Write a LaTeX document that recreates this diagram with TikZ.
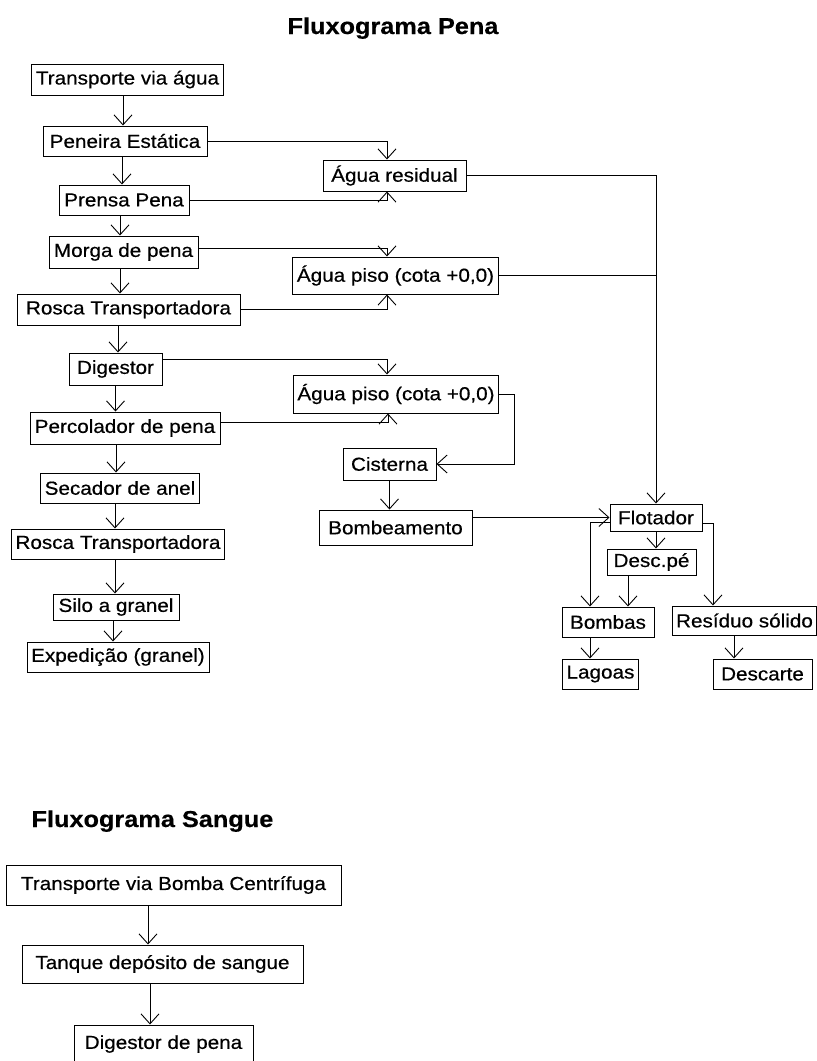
\documentclass[tikz,border=0pt]{standalone}
\usepackage{fontspec}
\setmainfont{Liberation Sans}
\newfontfamily\flowfont[FakeStretch=1.1,FakeBold=0.5]{Liberation Sans}
\usetikzlibrary{arrows.meta}

\tikzset{
  box/.style={draw, line width=1pt, inner xsep=4pt, inner ysep=0pt,
    minimum height=31pt, font=\flowfont\fontsize{18.8}{21}\selectfont},
  flow/.style={line width=0.9pt, -{Straight Barb[length=10pt,width=18pt]}},
  link/.style={line width=0.9pt},
  heading/.style={font=\flowfont\fontsize{23}{27}\selectfont\bfseries}
}

\begin{document}
\begin{tikzpicture}[x=1pt,y=-1pt]
\path[fill=white] (0,0) rectangle (817,1061);
\useasboundingbox (0,0) rectangle (817,1061);

\node[heading,anchor=base] (tpena) at (393,34) {Fluxograma Pena};

% coluna principal
\node[box,minimum width=191pt] (transp) at (127.5,79.5) {Transporte via água};
\node[box,minimum width=164pt,minimum height=30pt] (peneira) at (125,141) {Peneira Estática};
\node[box,minimum width=130pt,minimum height=30pt] (prensa) at (124,200) {Prensa Pena};
\node[box,minimum width=149pt,minimum height=32pt] (morga) at (123.5,252) {Morga de pena};
\node[box,minimum width=223pt] (rosca1) at (128.5,309.5) {Rosca Transportadora};
\node[box,minimum width=93pt,minimum height=32pt] (digestor) at (115.5,369) {Digestor};
\node[box,minimum width=190pt,minimum height=32pt] (percol) at (125,428) {Percolador de pena};
\node[box,minimum width=158pt,minimum height=30pt] (secador) at (120,488) {Secador de anel};
\node[box,minimum width=212pt,minimum height=30pt] (rosca2) at (118,544) {Rosca Transportadora};
\node[box,minimum width=126pt,minimum height=26pt] (silo) at (116,607) {Silo a granel};
\node[box,minimum width=182pt,minimum height=30pt] (exped) at (118,657) {Expedição (granel)};

% aguas
\node[box,minimum width=143pt] (aguares) at (394.5,175.5) {Água residual};
\node[box,minimum width=205pt,minimum height=37pt] (piso1) at (395.5,275.5) {Água piso (cota +0,0)};
\node[box,minimum width=204pt,minimum height=38pt] (piso2) at (396,394) {Água piso (cota +0,0)};
\node[box,minimum width=93pt,minimum height=32pt] (cist) at (389.5,464) {Cisterna};
\node[box,minimum width=153pt,minimum height=35pt] (bomb) at (395.5,527.5) {Bombeamento};

% flotador
\node[box,minimum width=92pt,minimum height=27pt] (flot) at (656,517.5) {Flotador};
\node[box,minimum width=89pt,minimum height=26pt] (desc) at (651.5,562) {Desc.pé};
\node[box,minimum width=92pt,minimum height=30pt] (bombas) at (608,622) {Bombas};
\node[box,minimum width=73pt,minimum height=30pt] (lagoas) at (600.5,674) {Lagoas};
\node[box,minimum width=143pt,minimum height=29pt] (resid) at (744.5,620.5) {Resíduo sólido};
\node[box,minimum width=99pt,minimum height=30pt] (descarte) at (762.5,674) {Descarte};

% sangue
\node[heading,anchor=base west] (tsangue) at (28,827) {Fluxograma Sangue};
\node[box,minimum width=335pt,minimum height=40pt] (tbomba) at (173.5,885) {Transporte via Bomba Centrífuga};
\node[box,minimum width=281pt,minimum height=38pt] (tanque) at (162.5,964) {Tanque depósito de sangue};
\node[box,minimum width=179pt,minimum height=38pt] (digpena) at (163.5,1044) {Digestor de pena};

% setas da coluna principal
\draw[flow] ([xshift=-4.5pt]transp.south) -- ([xshift=-4.5pt]transp.south |- peneira.north);
\draw[flow] ([xshift=-3pt]peneira.south) -- ([xshift=-3pt]peneira.south |- prensa.north);
\draw[flow] ([xshift=-4pt]prensa.south) -- ([xshift=-4pt]prensa.south |- morga.north);
\draw[flow] ([xshift=-3.5pt]morga.south) -- ([xshift=-3.5pt]morga.south |- rosca1.north);
\draw[flow] ([xshift=-10.5pt]rosca1.south) -- ([xshift=-10.5pt]rosca1.south |- digestor.north);
\draw[flow] (digestor.south) -- (digestor.south |- percol.north);
\draw[flow] ([xshift=-9pt]percol.south) -- ([xshift=-9pt]percol.south |- secador.north);
\draw[flow] ([xshift=-5pt]secador.south) -- ([xshift=-5pt]secador.south |- rosca2.north);
\draw[flow] ([xshift=-3pt]rosca2.south) -- ([xshift=-3pt]rosca2.south |- silo.north);
\draw[flow] ([xshift=-3pt]silo.south) -- ([xshift=-3pt]silo.south |- exped.north);

% setas para as aguas
\draw[flow] (peneira.east) -| ([xshift=-7.5pt]aguares.north);
\draw[flow] (prensa.east) -| ([xshift=-7.5pt]aguares.south);
\draw[flow] ([yshift=4pt]morga.east) -| ([xshift=-8.5pt]piso1.north);
\draw[flow] (rosca1.east) -| ([xshift=-8.5pt]piso1.south);
\draw[flow] ([yshift=10pt]digestor.east) -| ([xshift=-9pt]piso2.north);
\draw[flow] ([yshift=6pt]percol.east) -| ([xshift=-8pt]piso2.south);
\draw[flow] (piso2.east) -- ++(15,0) |- (cist.east);
\draw[flow] (cist.south) -- (cist.south |- bomb.north);

% flotador
\draw[flow] (aguares.east) -| (flot.north);
\draw[link] (piso1.east) -- (piso1.east -| flot.north);
\draw[flow] (bomb.east |- flot.west) -- (flot.west);
\draw[flow] (flot.south) -- (flot.south |- desc.north);
\draw[flow] ([xshift=-23.5pt]desc.south) -- ([xshift=-23.5pt]desc.south |- bombas.north);
\draw[flow] ([yshift=-5pt]flot.west) -| ([xshift=-18pt]bombas.north);
\draw[flow] ([yshift=-6pt]flot.east) -| ([xshift=-31.5pt]resid.north);
\draw[flow] ([xshift=-18pt]bombas.south) -- ([xshift=-18pt]bombas.south |- lagoas.north);
\draw[flow] ([xshift=-10.5pt]resid.south) -- ([xshift=-10.5pt]resid.south |- descarte.north);

% sangue
\draw[flow] ([xshift=-25.5pt]tbomba.south) -- ([xshift=-25.5pt]tbomba.south |- tanque.north);
\draw[flow] ([xshift=-12.5pt]tanque.south) -- ([xshift=-12.5pt]tanque.south |- digpena.north);
\end{tikzpicture}
\end{document}
